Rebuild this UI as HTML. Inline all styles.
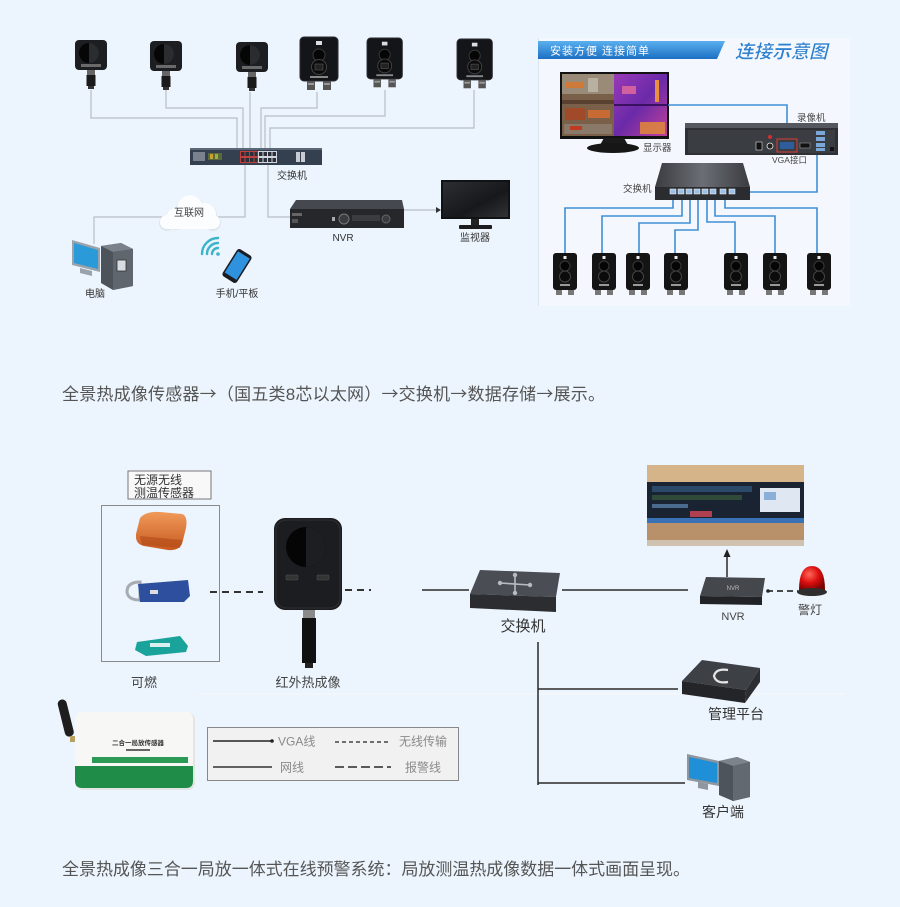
<!DOCTYPE html>
<html><head><meta charset="utf-8">
<style>
html,body{margin:0;padding:0;background:#ecf4fd;}
body{width:900px;height:907px;overflow:hidden;}
svg{display:block;}
text{font-family:"Liberation Sans","Noto Sans CJK SC",sans-serif;}
.ar{font-family:"Noto Sans CJK SC",sans-serif;}
</style></head>
<body>
<svg width="900" height="907" viewBox="0 0 900 907" xmlns="http://www.w3.org/2000/svg">
<defs>
  <linearGradient id="ban" x1="0" y1="0" x2="0" y2="1">
    <stop offset="0" stop-color="#5ab0ee"/><stop offset="1" stop-color="#1c6fc4"/>
  </linearGradient>
  <linearGradient id="thermal" x1="0" y1="0" x2="1" y2="1">
    <stop offset="0" stop-color="#9a3ab8"/><stop offset="0.5" stop-color="#6a2aa8"/><stop offset="1" stop-color="#c0409a"/>
  </linearGradient>
  <linearGradient id="swtop" x1="0" y1="0" x2="1" y2="0">
    <stop offset="0" stop-color="#3a3c41"/><stop offset="0.5" stop-color="#6b6e74"/><stop offset="1" stop-color="#3a3c41"/>
  </linearGradient>
  <linearGradient id="mon" x1="0" y1="0" x2="1" y2="1">
    <stop offset="0" stop-color="#2c2e33"/><stop offset="0.6" stop-color="#17181b"/><stop offset="1" stop-color="#303236"/>
  </linearGradient>
  <radialGradient id="red" cx="0.4" cy="0.35" r="0.7">
    <stop offset="0" stop-color="#ff6a5a"/><stop offset="0.5" stop-color="#dd1010"/><stop offset="1" stop-color="#7a0000"/>
  </radialGradient>
  <linearGradient id="orange" x1="0" y1="0" x2="0" y2="1">
    <stop offset="0" stop-color="#f09a5a"/><stop offset="1" stop-color="#c85a20"/>
  </linearGradient>
  <g id="sens">
    <rect x="0" y="0" width="32" height="30" rx="4" fill="#1d1e21"/>
    <circle cx="14" cy="13" r="10" fill="#060606"/>
    <path d="M14 3 A10 10 0 0 1 14 23 Z" fill="#2b2c30"/>
    <rect x="6" y="24" width="20" height="3" fill="#6a6a6a"/>
    <rect x="12" y="30" width="8" height="5" fill="#666"/>
    <rect x="11.5" y="35" width="9" height="11" fill="#1a1a1a"/>
    <rect x="13" y="46" width="6" height="3" fill="#333"/>
  </g>
  <g id="cam">
    <rect x="0" y="0" width="38" height="44" rx="4" fill="#141518" stroke="#2c2d30"/>
    <rect x="16" y="4" width="6" height="4" fill="#ddd"/>
    <circle cx="19" cy="18" r="6" fill="#050505" stroke="#3a3a3a"/>
    <circle cx="19" cy="30" r="7.5" fill="#0b0b0b" stroke="#444"/>
    <rect x="15" y="27" width="8" height="6" fill="#222" stroke="#555" stroke-width="0.6"/>
    <rect x="10" y="39" width="18" height="2" fill="#888"/>
    <rect x="7" y="44" width="8" height="9" fill="#555"/>
    <rect x="23" y="44" width="8" height="9" fill="#555"/>
    <rect x="8" y="46" width="6" height="2" fill="#999"/>
    <rect x="24" y="46" width="6" height="2" fill="#999"/>
  </g>
  <g id="mcam">
    <rect x="0" y="0" width="24" height="37" rx="3" fill="#141414"/>
    <rect x="10.5" y="3" width="3" height="3" fill="#eee"/>
    <circle cx="12" cy="13" r="5" fill="#050505" stroke="#3a3a3a"/>
    <circle cx="12" cy="23.5" r="5.5" fill="#0b0b0b" stroke="#444"/>
    <rect x="7" y="31" width="10" height="2" fill="#999"/>
    <rect x="3" y="37" width="6" height="5" fill="#777"/>
    <rect x="15" y="37" width="6" height="5" fill="#777"/>
  </g>
</defs>

<!-- ============ TOP-LEFT DIAGRAM ============ -->
<g fill="none" stroke="#b7bdc4" stroke-width="1.2">
  <path d="M91,90 V118 H237 V149"/>
  <path d="M166,90 V108 H243 V149"/>
  <path d="M250,92 V149"/>
  <path d="M317,92 V108 H261 V149"/>
  <path d="M385,90 V116 H265 V149"/>
  <path d="M474,90 V128 H270 V149"/>
  <path d="M245,165 V217 H216"/>
  <path d="M162,217 H94 V244"/>
  <path d="M268,165 V217 H292"/>
  <path d="M404,210 H436"/>
</g>
<path d="M436,207 L441,210 L436,213 Z" fill="#333"/>

<use href="#sens" x="75" y="40"/>
<use href="#sens" x="150" y="41"/>
<use href="#sens" x="236" y="42"/>
<use href="#cam" x="300" y="37"/>
<g transform="translate(367,38) scale(0.93)"><use href="#cam"/></g>
<g transform="translate(457,39) scale(0.93)"><use href="#cam"/></g>

<!-- switch -->
<rect x="190" y="148" width="132" height="17" fill="#34404f"/>
<rect x="190" y="148" width="132" height="2" fill="#5a6878"/>
<rect x="193" y="152" width="12" height="9" fill="#7a8290"/>
<rect x="208" y="153" width="14" height="7" fill="#5a6a3a"/>
<rect x="210" y="154" width="3" height="5" fill="#c8a030"/>
<rect x="215" y="154" width="3" height="5" fill="#9ab040"/>
<rect x="240" y="151" width="18" height="12" fill="#c04040"/>
<rect x="258" y="151" width="19" height="12" fill="#d0d6de"/>
<g fill="#2a2f38">
  <rect x="241" y="152" width="3.5" height="4"/><rect x="245.5" y="152" width="3.5" height="4"/><rect x="250" y="152" width="3.5" height="4"/><rect x="254.5" y="152" width="3" height="4"/>
  <rect x="241" y="158" width="3.5" height="4"/><rect x="245.5" y="158" width="3.5" height="4"/><rect x="250" y="158" width="3.5" height="4"/><rect x="254.5" y="158" width="3" height="4"/>
  <rect x="259" y="152" width="3.5" height="4"/><rect x="263.5" y="152" width="3.5" height="4"/><rect x="268" y="152" width="3.5" height="4"/><rect x="272.5" y="152" width="3.5" height="4"/>
  <rect x="259" y="158" width="3.5" height="4"/><rect x="263.5" y="158" width="3.5" height="4"/><rect x="268" y="158" width="3.5" height="4"/><rect x="272.5" y="158" width="3.5" height="4"/>
</g>
<rect x="296" y="152" width="4" height="10" fill="#c8ccd2"/>
<rect x="301" y="152" width="4" height="10" fill="#c8ccd2"/>
<text x="277" y="179" font-size="10" fill="#333">交换机</text>

<!-- cloud -->
<g fill="#dfe5ec">
  <circle cx="176" cy="219" r="11"/><circle cx="190" cy="209" r="14"/><circle cx="205" cy="215" r="12"/>
  <circle cx="167" cy="223" r="8"/><circle cx="213" cy="223" r="8"/>
</g>
<g fill="#fbfdff">
  <circle cx="176" cy="218" r="10"/><circle cx="190" cy="208" r="13"/><circle cx="205" cy="214" r="11"/>
  <circle cx="167" cy="222" r="7"/><circle cx="213" cy="222" r="7"/>
  <rect x="167" y="215" width="46" height="14"/>
</g>
<text x="189" y="216" font-size="10" fill="#444" text-anchor="middle">互联网</text>

<!-- NVR top-left -->
<polygon points="296,200 402,200 404,209 290,209" fill="#45484e"/>
<rect x="290" y="209" width="114" height="19" fill="#25272b"/>
<rect x="292" y="213" width="10" height="3" fill="#666"/>
<rect x="292" y="219" width="6" height="4" fill="#555"/>
<circle cx="344" cy="219" r="5" fill="#3a3c40" stroke="#777"/>
<rect x="352" y="215" width="28" height="6" fill="#3a3c40"/>
<circle cx="386" cy="219" r="4" fill="#3a3c40" stroke="#666"/>
<rect x="332" y="217" width="3" height="4" fill="#aaa"/>
<text x="343" y="241" font-size="10" fill="#333" text-anchor="middle">NVR</text>

<!-- monitor top-left -->
<rect x="441" y="180" width="69" height="39" fill="#111214"/>
<rect x="443" y="182" width="65" height="35" fill="url(#mon)"/>
<rect x="471" y="219" width="8" height="6" fill="#222"/>
<rect x="459" y="225" width="33" height="4" rx="1" fill="#1c1c1e"/>
<text x="475" y="241" font-size="10" fill="#333" text-anchor="middle">监视器</text>

<!-- computer -->
<polygon points="72,240 100,248 100,272 72,265" fill="#9aa2ab"/>
<polygon points="74,243 98,250 98,269 74,263" fill="#2a9ad8"/>
<polygon points="80,268 92,271 92,276 80,273" fill="#9aa2ab"/>
<polygon points="101,246 121,243 133,249 133,286 113,290 101,283" fill="#4d535b"/>
<polygon points="101,246 121,243 133,249 113,252" fill="#7a818a"/>
<polygon points="113,252 133,249 133,286 113,290" fill="#5f666e"/>
<rect x="117" y="260" width="9" height="11" fill="#d8dde2" stroke="#333" stroke-width="0.8"/>
<text x="95" y="297" font-size="10" fill="#333" text-anchor="middle">电脑</text>

<!-- phone + wifi -->
<g fill="none" stroke="#3ab4c8" stroke-width="2.4" stroke-linecap="round">
  <path d="M212,254 A6,6 0 0 1 218,248"/>
  <path d="M207,254 A11,11 0 0 1 218,243"/>
  <path d="M202,254 A16,16 0 0 1 218,238"/>
</g>
<circle cx="218" cy="254" r="1.8" fill="#3ab4c8"/>
<g transform="translate(237,266) rotate(32)">
  <rect x="-8.5" y="-16" width="17" height="32" rx="3" fill="#1b1d22"/>
  <rect x="-7" y="-13" width="14" height="25" fill="#2f92de"/>
</g>
<text x="237" y="297" font-size="10" fill="#333" text-anchor="middle">手机/平板</text>

<!-- ============ TOP-RIGHT PANEL ============ -->
<rect x="538" y="38" width="312" height="268" fill="#f4f8fe"/>
<line x1="538.5" y1="38" x2="538.5" y2="306" stroke="#dbe4ee"/>
<polygon points="538,41 725,41 717,59 538,59" fill="url(#ban)"/>
<text x="550" y="54.5" font-size="11" fill="#ffffff" letter-spacing="1">安装方便 连接简单</text>
<text x="735" y="58" font-size="18.5" font-weight="bold" font-style="italic" fill="#2f80d0" stroke="#ffffff" stroke-width="0.4">连接示意图</text>

<!-- monitor with thermal image -->
<rect x="560" y="72" width="109" height="67" fill="#121212"/>
<rect x="562" y="74" width="52" height="62" fill="#7a6048"/>
<rect x="562" y="74" width="52" height="20" fill="#9a8a78"/>
<rect x="566" y="82" width="18" height="6" fill="#d07a3a"/>
<rect x="588" y="78" width="10" height="14" fill="#b8b0a0"/>
<rect x="562" y="100" width="52" height="4" fill="#5a4030"/>
<rect x="565" y="108" width="20" height="12" fill="#a04a2a"/>
<rect x="588" y="110" width="22" height="8" fill="#c86a34"/>
<rect x="564" y="124" width="48" height="10" fill="#8a7868"/>
<rect x="570" y="126" width="12" height="4" fill="#c03a20"/>
<rect x="614" y="74" width="53" height="62" fill="url(#thermal)"/>
<rect x="614" y="104" width="53" height="2" fill="#3a1060"/>
<rect x="655" y="80" width="4" height="22" fill="#e89040"/>
<rect x="640" y="122" width="25" height="12" fill="#e08838" opacity="0.85"/>
<rect x="622" y="86" width="14" height="8" fill="#d060a0"/>
<polygon points="604,138 624,138 628,145 600,145" fill="#1a1a1a"/>
<ellipse cx="613" cy="148" rx="26" ry="5" fill="#161616"/>
<text x="643" y="151" font-size="9.5" fill="#444">显示器</text>

<!-- blue connection lines -->
<g fill="none" stroke="#3f8fd6" stroke-width="1.6">
  <path d="M668,105 H787 V142"/>
  <path d="M750,192 H817 V142"/>
  <path d="M565,253 V208 H673 V193"/>
  <path d="M602,253 V216 H682 V193"/>
  <path d="M639,253 V223 H690 V193"/>
  <path d="M675,253 V230 H698 V193"/>
  <path d="M735,253 V222 H707 V193"/>
  <path d="M775,253 V216 H715 V193"/>
  <path d="M817,253 V208 H725 V193"/>
</g>

<!-- NVR rear -->
<rect x="685" y="123" width="153" height="32" fill="#2e3034"/>
<rect x="685" y="123" width="153" height="5" fill="#55585e"/>
<rect x="688" y="130" width="147" height="23" fill="#3a3d42"/>
<rect x="756" y="142" width="6" height="8" fill="#111" stroke="#ddd" stroke-width="0.6"/>
<circle cx="770" cy="137" r="2" fill="#d03030"/>
<circle cx="770" cy="146" r="3" fill="#222" stroke="#eee" stroke-width="0.8"/>
<rect x="777" y="139" width="20" height="13" fill="none" stroke="#e03a3a" stroke-width="1"/>
<rect x="780" y="142" width="14" height="7" fill="#2f5c9a"/>
<rect x="800" y="143" width="10" height="5" fill="#111" stroke="#999" stroke-width="0.6"/>
<rect x="816" y="131" width="9" height="4" fill="#7aa6d8"/>
<rect x="816" y="137" width="9" height="4" fill="#7aa6d8"/>
<rect x="816" y="143" width="9" height="4" fill="#7aa6d8"/>
<rect x="816" y="148" width="9" height="3" fill="#7aa6d8"/>
<rect x="830" y="147" width="4" height="4" fill="#111"/>
<text x="797" y="121" font-size="9.5" fill="#444">录像机</text>
<text x="772" y="163" font-size="8.5" fill="#444">VGA接口</text>

<!-- switch right -->
<polygon points="662,163 743,163 750,187 655,187" fill="url(#swtop)"/>
<rect x="655" y="187" width="95" height="13" fill="#2a2c30"/>
<g fill="#9cc0e6" stroke="#ffffff" stroke-width="0.5">
  <rect x="670" y="189" width="6" height="5"/><rect x="678" y="189" width="6" height="5"/><rect x="686" y="189" width="6" height="5"/><rect x="694" y="189" width="6" height="5"/>
  <rect x="702" y="189" width="6" height="5"/><rect x="710" y="189" width="6" height="5"/><rect x="720" y="189" width="6" height="5"/><rect x="729" y="189" width="6" height="5"/>
</g>
<text x="623" y="192" font-size="9.5" fill="#444">交换机</text>

<use href="#mcam" x="553" y="253"/>
<use href="#mcam" x="592" y="253"/>
<use href="#mcam" x="626" y="253"/>
<use href="#mcam" x="664" y="253"/>
<use href="#mcam" x="724" y="253"/>
<use href="#mcam" x="763" y="253"/>
<use href="#mcam" x="807" y="253"/>

<!-- caption 1 -->
<text x="62" y="400" font-size="17" fill="#555" textLength="543" lengthAdjust="spacing">全景热成像传感器<tspan class="ar">→</tspan>（国五类8芯以太网）<tspan class="ar">→</tspan>交换机<tspan class="ar">→</tspan>数据存储<tspan class="ar">→</tspan>展示。</text>

<!-- ============ LOWER DIAGRAM ============ -->
<line x1="200" y1="694" x2="845" y2="694" stroke="#f3f7fc" stroke-width="2"/>

<rect x="128" y="471" width="83" height="28" fill="#f8f8f8" stroke="#777" stroke-width="1"/>
<text x="134" y="484" font-size="12" fill="#333">无源无线</text>
<text x="134" y="497" font-size="12" fill="#333">测温传感器</text>
<rect x="101.5" y="505.5" width="118" height="156" fill="none" stroke="#8a8a8a" stroke-width="1"/>

<!-- orange sensor -->
<path d="M140,518 Q146,511 160,512 L182,514 Q188,516 186,528 L182,544 Q178,551 168,550 L144,546 Q135,544 136,534 Z" fill="url(#orange)"/>
<path d="M140,536 L182,540 L180,548 L142,545 Z" fill="#b04a18" opacity="0.6"/>
<!-- blue sensor -->
<path d="M127,592 Q127,582 140,582 L140,600 Q128,600 127,592 Z" fill="none" stroke="#a8acb2" stroke-width="3"/>
<path d="M138,584 L188,580 L190,596 L184,602 L140,602 Z" fill="#2e4f9e"/>
<rect x="150" y="590" width="8" height="4" fill="#ddd"/>
<!-- teal sensor -->
<path d="M137,642 L180,636 L188,646 L186,652 L146,656 L135,650 Z" fill="#1aa39a"/>
<rect x="150" y="643" width="20" height="4" fill="#d8f0ee"/>

<text x="131" y="687" font-size="13" fill="#444">可燃</text>

<line x1="210" y1="592" x2="263" y2="592" stroke="#333" stroke-width="2" stroke-dasharray="7 5"/>

<!-- thermal camera -->
<rect x="274" y="518" width="68" height="92" rx="11" fill="#1c1d20"/>
<rect x="276" y="520" width="64" height="88" rx="10" fill="none" stroke="#2e2f33" stroke-width="1"/>
<circle cx="306" cy="547" r="20" fill="#050505"/>
<path d="M306,527 A20,20 0 0 1 306,567 Z" fill="#1d1e21"/>
<rect x="286" y="575" width="12" height="5" rx="1" fill="#333" stroke="#555" stroke-width="0.5"/>
<rect x="317" y="575" width="12" height="5" rx="1" fill="#333" stroke="#555" stroke-width="0.5"/>
<rect x="303" y="610" width="12" height="8" fill="#8a8a8a"/>
<rect x="302" y="618" width="14" height="45" fill="#111"/>
<rect x="305" y="663" width="8" height="5" fill="#222"/>
<text x="308" y="687" font-size="13" fill="#444" text-anchor="middle">红外热成像</text>

<line x1="345" y1="590" x2="371" y2="590" stroke="#333" stroke-width="2" stroke-dasharray="7 5"/>

<g fill="none" stroke="#2a2a2a" stroke-width="1.5">
  <path d="M422,590 H469"/>
  <path d="M562,590 H688"/>
  <path d="M538,642 V785"/>
  <path d="M538,689 H678"/>
  <path d="M538,783 H685"/>
  <path d="M727,577 V556"/>
</g>
<path d="M723.5,557 L727,549 L730.5,557 Z" fill="#222"/>
<line x1="767" y1="591" x2="798" y2="591" stroke="#333" stroke-width="1.8" stroke-dasharray="6 4"/>
<circle cx="768" cy="591" r="1.8" fill="#222"/>

<!-- lower switch -->
<polygon points="480,570 560,573 556,597 470,594" fill="#4a4d53"/>
<polygon points="470,594 556,597 556,612 470,608" fill="#2b2d31"/>
<g stroke="#b8bcc2" stroke-width="1.6">
  <line x1="500" y1="583" x2="530" y2="585"/>
  <line x1="515" y1="575" x2="515" y2="593"/>
</g>
<g fill="#b8bcc2">
  <circle cx="500" cy="583" r="2.2"/><circle cx="530" cy="585" r="2.2"/><circle cx="515" cy="575" r="2.2"/><circle cx="515" cy="593" r="2.2"/>
</g>
<text x="523" y="631" font-size="15" fill="#333" text-anchor="middle">交换机</text>

<!-- video wall -->
<rect x="647" y="465" width="157" height="81" fill="#c39a6c"/>
<rect x="647" y="465" width="157" height="17" fill="#d6b48a"/>
<rect x="647" y="482" width="157" height="40" fill="#1a2332"/>
<rect x="652" y="486" width="100" height="6" fill="#2b4a6a"/>
<rect x="652" y="495" width="90" height="5" fill="#304a3a"/>
<rect x="690" y="511" width="22" height="6" fill="#b04050"/>
<rect x="760" y="488" width="40" height="24" fill="#dfe8f2"/>
<rect x="764" y="492" width="12" height="8" fill="#8ab0d8"/>
<rect x="652" y="504" width="36" height="4" fill="#4a6a90"/>
<rect x="647" y="518" width="157" height="5" fill="#3a70b4"/>
<rect x="647" y="523" width="157" height="23" fill="#b8916a"/>
<rect x="647" y="540" width="157" height="6" fill="#cfc2b0"/>

<!-- NVR lower -->
<polygon points="706,577 765,578 762,597 700,596" fill="#44474c"/>
<polygon points="700,596 762,597 762,605 700,604" fill="#222326"/>
<text x="733" y="590" font-size="6" fill="#bbb" text-anchor="middle">NVR</text>
<text x="733" y="620" font-size="11" fill="#444" text-anchor="middle">NVR</text>

<!-- warning light -->
<path d="M799,590 Q799,566 812,566 Q825,566 825,590 Z" fill="url(#red)"/>
<ellipse cx="812" cy="592" rx="15" ry="4" fill="#2e2e2e"/>
<text x="810" y="614" font-size="12" fill="#444" text-anchor="middle">警灯</text>

<!-- management platform -->
<polygon points="702,660 760,668 746,690 682,681" fill="#3d4045"/>
<polygon points="682,681 746,690 745,703 682,694" fill="#232528"/>
<polygon points="746,690 760,668 760,682 745,703" fill="#2c2e32"/>
<path d="M728,670 Q716,668 714,676 Q716,684 728,682" fill="none" stroke="#e6e6e6" stroke-width="2.2"/>
<text x="736" y="719" font-size="14" fill="#333" text-anchor="middle">管理平台</text>

<!-- client computer -->
<polygon points="687,754 719,761 719,786 687,780" fill="#8f969e"/>
<polygon points="689,757 717,763 717,783 689,778" fill="#1f8fd8"/>
<polygon points="698,782 708,784 708,790 698,788" fill="#8f969e"/>
<polygon points="719,761 737,757 750,762 750,797 733,801 719,795" fill="#4e545b"/>
<polygon points="719,761 737,757 750,762 733,766" fill="#7c838b"/>
<polygon points="733,766 750,762 750,797 733,801" fill="#626970"/>
<text x="723" y="817" font-size="14" fill="#333" text-anchor="middle">客户端</text>

<!-- green sensor -->
<g transform="translate(66,719) rotate(-14)">
  <rect x="-4.5" y="-20" width="9" height="38" rx="4.5" fill="#1e1e1e"/>
</g>
<rect x="70" y="736" width="8" height="6" fill="#b8a060"/>
<rect x="77" y="713" width="118" height="77" rx="7" fill="#e2e6e2"/>
<rect x="75" y="712" width="118" height="76" rx="7" fill="#f7f8f6"/>
<path d="M75,766 H193 V781 Q193,788 186,788 H82 Q75,788 75,781 Z" fill="#1f8c48"/>
<rect x="92" y="757" width="96" height="6" fill="#2a9a55"/>
<text x="138" y="745" font-size="6.5" fill="#333" text-anchor="middle" font-weight="bold">二合一局放传感器</text>
<rect x="126" y="749" width="24" height="2" fill="#666"/>

<!-- legend -->
<rect x="207.5" y="727.5" width="251" height="53" fill="#f1f1f1" stroke="#888" stroke-width="1"/>
<line x1="213" y1="741" x2="271" y2="741" stroke="#222" stroke-width="1.5"/>
<circle cx="272" cy="741" r="1.8" fill="#222"/>
<text x="278" y="745.5" font-size="12" fill="#8a8a8a">VGA线</text>
<line x1="335" y1="742" x2="389" y2="742" stroke="#444" stroke-width="1.5" stroke-dasharray="4 3"/>
<text x="399" y="745.5" font-size="12" fill="#8a8a8a">无线传输</text>
<line x1="213" y1="767" x2="272" y2="767" stroke="#333" stroke-width="1.5"/>
<text x="280" y="771.5" font-size="12" fill="#8a8a8a">网线</text>
<line x1="335" y1="767" x2="391" y2="767" stroke="#444" stroke-width="1.8" stroke-dasharray="9 4"/>
<text x="405" y="771.5" font-size="12" fill="#8a8a8a">报警线</text>

<!-- caption 2 -->
<text x="62" y="875" font-size="17" fill="#555" textLength="628" lengthAdjust="spacing">全景热成像三合一局放一体式在线预警系统：局放测温热成像数据一体式画面呈现。</text>
</svg>
</body></html>
